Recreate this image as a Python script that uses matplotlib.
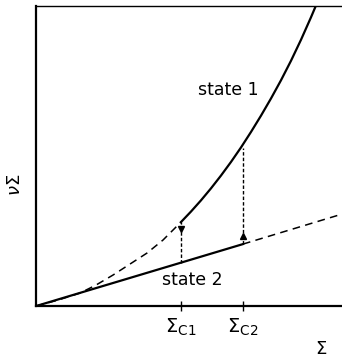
import matplotlib
matplotlib.use("Agg")
import matplotlib.pyplot as plt

# values (arbitrary units, origin at the axes corner)
sigma_c1 = 145
sigma_c2 = 207
x_max, y_max = 306, 300

state1_x = [145, 155, 165, 175, 185, 195, 205, 215, 225, 235, 245, 255, 265, 275, 281]
state1_y = [84, 94.5, 105.7, 117.7, 130.5, 144.1, 158.6, 174.1, 190.4, 207.6, 225.8, 245.3, 266.3, 288.8, 303]

state1_ext_x = [0, 22, 44, 60, 77, 94, 111, 127, 145]
state1_ext_y = [0, 6, 13, 21, 31, 42, 53, 66, 84]

state2_x = [0, 207]
state2_y = [0, 62]
state2_ext_x = [207, 306]
state2_ext_y = [62, 92]

jump1_y = [43, 84]    # at sigma_c1
jump2_y = [62, 158]   # at sigma_c2
arrow1_y = 77
arrow2_y = 70

plt.rcParams["font.family"] = ["DejaVu Sans"]
plt.rcParams["mathtext.fontset"] = "dejavusans"

fig = plt.figure(figsize=(3.42, 3.58), dpi=100)
ax = fig.add_axes([0.105, 0.145, 0.895, 0.838])

ax.plot(state1_x, state1_y, color="black", lw=1.6)
ax.plot(state1_ext_x, state1_ext_y, color="black", lw=1.1, ls=(0, (5, 3.5)))
ax.plot(state2_x, state2_y, color="black", lw=1.6)
ax.plot(state2_ext_x, state2_ext_y, color="black", lw=1.1, ls=(0, (5, 3.5)))

ax.plot([sigma_c1, sigma_c1], jump1_y, color="black", lw=1.0, ls=(0, (2.5, 1.5)))
ax.plot([sigma_c2, sigma_c2], jump2_y, color="black", lw=1.0, ls=(0, (2.5, 1.5)))
ax.plot([sigma_c1], [arrow1_y], marker="v", ms=4, color="black")
ax.plot([sigma_c2], [arrow2_y], marker="^", ms=4, color="black")

ax.text(192, 216, "state 1", fontsize=12.5, ha="center", va="center")
ax.text(156, 26, "state 2", fontsize=12.5, ha="center", va="center")

ax.set_xlim(0, x_max)
ax.set_ylim(0, y_max)
ax.set_xticks([sigma_c1, sigma_c2])
ax.set_xticklabels([r"$\Sigma_{\rm C1}$", r"$\Sigma_{\rm C2}$"], fontsize=14)
ax.set_yticks([])
ax.tick_params(axis="x", direction="inout", length=7, width=1.0, pad=4)

for side in ["left", "bottom"]:
    ax.spines[side].set_linewidth(1.6)
ax.spines["top"].set_linewidth(1.0)
ax.spines["right"].set_visible(False)

fig.text(0.045, 0.485, r"$\nu\Sigma$", rotation=90, fontsize=13, ha="center", va="center")
fig.text(0.94, 0.025, r"$\Sigma$", fontsize=13, ha="center", va="center")

fig.savefig("out.png", dpi=100)
